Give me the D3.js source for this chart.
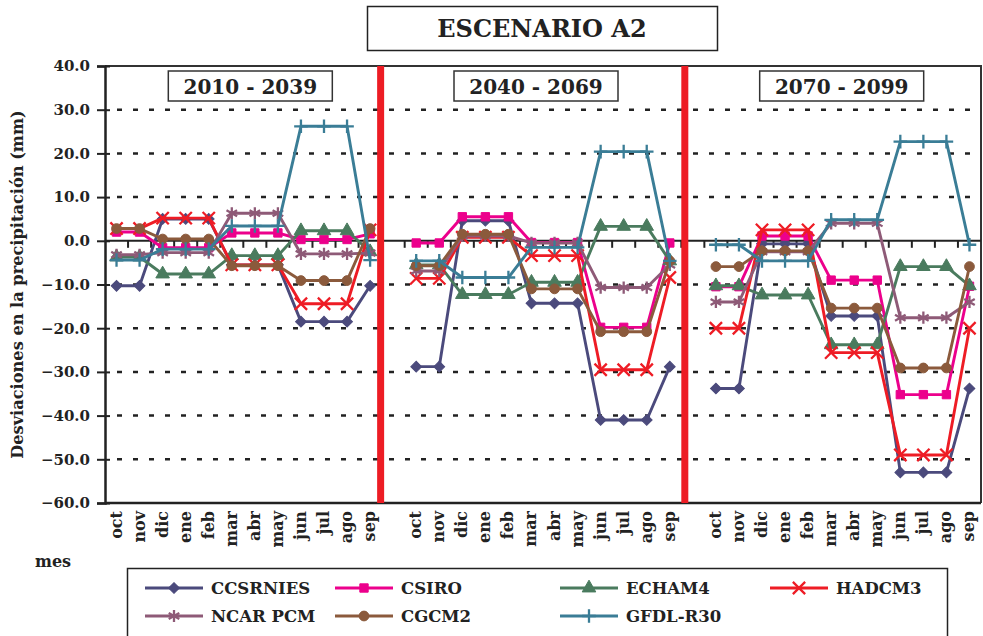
<!DOCTYPE html>
<html>
<head>
<meta charset="utf-8">
<script src="https://cdn.jsdelivr.net/npm/d3@7"></script>
<style>
  body { margin: 0; background: #fff; }
  svg { display: block; font-family: "DejaVu Serif", serif; font-weight: bold; }
</style>
</head>
<body>
<div id="chart"></div>
<script>
// months of the hydrological year, one panel per period
const months = ["oct", "nov", "dic", "ene", "feb", "mar", "abr", "may", "jun", "jul", "ago", "sep"];
const periods = ["2010 - 2039", "2040 - 2069", "2070 - 2099"];
const yTicks = [40, 30, 20, 10, 0, -10, -20, -30, -40, -50, -60];

// deviations (mm), 12 values per period
const ccsrnies = [
  -10.3, -10.3, 5.0, 5.0, 5.0, -5.5, -5.5, -5.5, -18.5, -18.5, -18.5, -10.3,
  -28.8, -28.8, 4.6, 4.6, 4.6, -14.3, -14.3, -14.3, -41.0, -41.0, -41.0, -28.8,
  -33.8, -33.8, -0.7, -0.7, -0.7, -17.2, -17.2, -17.2, -53.0, -53.0, -53.0, -33.8
];
const csiro = [
  2.0, 2.0, -1.6, -1.6, -1.6, 1.8, 1.8, 1.8, 0.3, 0.3, 0.3, 1.6,
  -0.5, -0.5, 5.5, 5.5, 5.5, -0.4, -0.4, -0.4, -19.8, -19.8, -19.8, -0.5,
  -10.5, -10.5, 1.1, 1.1, 1.1, -9.0, -9.0, -9.0, -35.2, -35.2, -35.2, -10.4
];
const echam4 = [
  -3.7, -3.7, -7.6, -7.6, -7.6, -3.4, -3.4, -3.4, 2.3, 2.3, 2.3, -2.5,
  -5.5, -5.5, -12.3, -12.3, -12.3, -9.5, -9.5, -9.5, 3.3, 3.3, 3.3, -4.6,
  -10.3, -10.3, -12.4, -12.4, -12.4, -23.8, -23.8, -23.8, -5.9, -5.9, -5.9, -10.3
];
const hadcm3 = [
  2.8, 2.8, 5.2, 5.2, 5.2, -5.5, -5.5, -5.5, -14.4, -14.4, -14.4, 2.5,
  -8.6, -8.6, 0.8, 0.8, 0.8, -3.4, -3.4, -3.4, -29.5, -29.5, -29.5, -8.4,
  -20.0, -20.0, 2.5, 2.5, 2.5, -25.6, -25.6, -25.6, -49.0, -49.0, -49.0, -20.0
];
const ncarPcm = [
  -3.2, -3.2, -2.7, -2.7, -2.7, 6.3, 6.3, 6.3, -3.0, -3.0, -3.0, -2.8,
  -6.9, -6.9, 1.1, 1.1, 1.1, -0.5, -0.5, -0.5, -10.7, -10.7, -10.7, -5.5,
  -14.0, -14.0, -2.5, -2.5, -2.5, 4.0, 4.0, 4.0, -17.6, -17.6, -17.6, -14.0
];
const cgcm2 = [
  2.8, 2.8, 0.4, 0.4, 0.4, -5.7, -5.7, -5.7, -9.1, -9.1, -9.1, 2.8,
  -5.7, -5.7, 1.5, 1.5, 1.5, -11.0, -11.0, -11.0, -20.8, -20.8, -20.8, -4.6,
  -5.9, -5.9, -2.3, -2.3, -2.3, -15.4, -15.4, -15.4, -29.1, -29.1, -29.1, -5.9
];
const gfdlR30 = [
  -4.4, -4.4, -1.9, -1.9, -1.9, 3.4, 3.4, 3.4, 26.2, 26.2, 26.2, -4.4,
  -4.6, -4.6, -8.4, -8.4, -8.4, -1.5, -1.5, -1.5, 20.4, 20.4, 20.4, -4.6,
  -0.9, -0.9, -4.6, -4.6, -4.6, 4.8, 4.8, 4.8, 22.7, 22.7, 22.7, -0.9
];

const series = [
  { name: "CCSRNIES", values: ccsrnies, color: "#4b4a7c", symbol: "diamond" },
  { name: "CSIRO", values: csiro, color: "#ec008c", symbol: "square" },
  { name: "ECHAM4", values: echam4, color: "#4a7b5e", symbol: "triangle" },
  { name: "HADCM3", values: hadcm3, color: "#ee1c25", symbol: "times" },
  { name: "NCAR PCM", values: ncarPcm, color: "#8e5a77", symbol: "asterisk" },
  { name: "CGCM2", values: cgcm2, color: "#8b5a3c", symbol: "circle" },
  { name: "GFDL-R30", values: gfdlR30, color: "#3a7d96", symbol: "plus" }
];

const width = 983;
const height = 636;
const plot = { left: 105, right: 981, top: 66, bottom: 503 };

// 12 months per panel with one empty slot between panels
const keys = [];
periods.forEach((p, pi) => {
  months.forEach(m => keys.push(pi + "-" + m));
  if (pi < periods.length - 1) keys.push("gap" + pi);
});

const x = d3.scaleBand().domain(keys).range([plot.left, plot.right]).padding(0);
const cx = k => x(k) + x.bandwidth() / 2;
const y = d3.scaleLinear().domain([-60, 40]).range([plot.bottom, plot.top]);

const svg = d3.select("#chart").append("svg")
  .attr("width", width)
  .attr("height", height);

// main title
svg.append("rect")
  .attr("x", 367.5).attr("y", 6.5).attr("width", 350).attr("height", 44)
  .attr("fill", "#fff").attr("stroke", "#222").attr("stroke-width", 1.5);
svg.append("text")
  .attr("x", 542).attr("y", 37)
  .attr("text-anchor", "middle")
  .attr("font-size", 24)
  .attr("fill", "#222")
  .text("ESCENARIO A2");

// dashed grid
svg.append("g")
  .selectAll("line")
  .data(yTicks.filter(v => v !== 0 && v !== 40 && v !== -60))
  .join("line")
  .attr("x1", plot.left + 12).attr("x2", plot.right)
  .attr("y1", d => y(d)).attr("y2", d => y(d))
  .attr("stroke", "#222").attr("stroke-width", 2.5)
  .attr("stroke-dasharray", "5,11");

// plot frame
svg.append("path")
  .attr("d", `M${plot.left},${plot.top}H${plot.right}V${plot.bottom}`)
  .attr("fill", "none").attr("stroke", "#333").attr("stroke-width", 2);

// y axis
const yAxis = svg.append("g")
  .attr("transform", `translate(${plot.left},0)`)
  .call(d3.axisLeft(y).tickValues(yTicks).tickFormat(d3.format(".1f")).tickSize(8).tickPadding(7));
yAxis.select(".domain").attr("stroke", "#222").attr("stroke-width", 2.5);
yAxis.selectAll(".tick line").attr("stroke", "#222").attr("stroke-width", 2).attr("x2", -8).attr("x1", 5);
yAxis.selectAll(".tick text")
  .attr("font-family", "DejaVu Serif").attr("font-weight", "bold")
  .attr("font-size", 15).attr("fill", "#222");

// bottom line
svg.append("line")
  .attr("x1", plot.left).attr("x2", plot.right)
  .attr("y1", plot.bottom).attr("y2", plot.bottom)
  .attr("stroke", "#222").attr("stroke-width", 2.5);

// zero line with category ticks
svg.append("line")
  .attr("x1", plot.left).attr("x2", plot.right)
  .attr("y1", y(0)).attr("y2", y(0))
  .attr("stroke", "#222").attr("stroke-width", 2);
svg.append("g")
  .selectAll("line")
  .data(keys.slice(1))
  .join("line")
  .attr("x1", d => x(d)).attr("x2", d => x(d))
  .attr("y1", y(0)).attr("y2", y(0) + 7)
  .attr("stroke", "#222").attr("stroke-width", 2);

// red separators between periods
const gapOffsets = [-1, 3.5];
svg.append("g")
  .selectAll("line")
  .data(keys.filter(k => k.startsWith("gap")))
  .join("line")
  .attr("x1", (d, i) => x(d) + gapOffsets[i]).attr("x2", (d, i) => x(d) + gapOffsets[i])
  .attr("y1", plot.top).attr("y2", plot.bottom)
  .attr("stroke", "#ed1c24").attr("stroke-width", 7);

// period labels
const boxShift = [7, -7, -1];
const periodBox = svg.append("g").selectAll("g")
  .data(periods)
  .join("g")
  .attr("transform", (d, i) => {
    const mid = (cx(i + "-oct") + cx(i + "-sep")) / 2 + boxShift[i];
    return `translate(${mid},86)`;
  });
periodBox.append("rect")
  .attr("x", -82).attr("y", -15).attr("width", 164).attr("height", 30)
  .attr("fill", "#fff").attr("stroke", "#333").attr("stroke-width", 1.5);
periodBox.append("text")
  .attr("text-anchor", "middle").attr("y", 7.5)
  .attr("font-size", 20).attr("fill", "#222")
  .text(d => d);

// markers
const symbolTypes = {
  diamond: d3.symbolSquare,
  square: d3.symbolSquare,
  triangle: d3.symbolTriangle,
  times: d3.symbolTimes,
  asterisk: d3.symbolAsterisk,
  circle: d3.symbolCircle,
  plus: d3.symbolPlus
};
const symbolSizes = { diamond: 58, square: 70, triangle: 80, times: 100, asterisk: 105, circle: 75, plus: 62 };
const strokeSymbols = ["times", "asterisk", "plus"];

function drawMarker(sel, s) {
  sel.append("path")
    .attr("d", d3.symbol(symbolTypes[s.symbol], symbolSizes[s.symbol])())
    .attr("transform", s.symbol === "diamond" ? "rotate(45)" : null)
    .attr("fill", strokeSymbols.includes(s.symbol) ? "none" : s.color)
    .attr("stroke", s.color)
    .attr("stroke-width", strokeSymbols.includes(s.symbol) ? 2.3 : 1);
}

const line = d3.line().x(d => cx(d.key)).y(d => y(d.v));

series.forEach(s => {
  const g = svg.append("g");
  periods.forEach((p, pi) => {
    const pts = months.map((m, mi) => ({ key: pi + "-" + m, v: s.values[pi * 12 + mi] }));
    g.append("path")
      .attr("d", line(pts))
      .attr("fill", "none")
      .attr("stroke", s.color)
      .attr("stroke-width", 2.9)
      .attr("stroke-linejoin", "round");
    pts.forEach(pt => {
      const mk = g.append("g").attr("transform", `translate(${cx(pt.key)},${y(pt.v)})`);
      drawMarker(mk, s);
    });
  });
});

// month labels
svg.append("g")
  .selectAll("text")
  .data(keys.filter(k => !k.startsWith("gap")))
  .join("text")
  .attr("transform", d => `translate(${cx(d) + 5},511) rotate(-90)`)
  .attr("text-anchor", "end")
  .attr("font-size", 16)
  .attr("fill", "#222")
  .text(d => d.split("-")[1]);

// axis titles
svg.append("text")
  .attr("transform", `translate(23,${(plot.top + plot.bottom) / 2}) rotate(-90)`)
  .attr("text-anchor", "middle")
  .attr("font-size", 16.2)
  .attr("fill", "#222")
  .text("Desviaciones en la precipitación (mm)");
svg.append("text")
  .attr("x", 35).attr("y", 567)
  .attr("font-size", 16)
  .attr("fill", "#222")
  .text("mes");

// legend
svg.append("rect")
  .attr("x", 127.5).attr("y", 568.5).attr("width", 820).attr("height", 70)
  .attr("fill", "#fff").attr("stroke", "#222").attr("stroke-width", 1.5);
const legendCols = [145, 335, 560, 770];
const legendItem = svg.append("g").selectAll("g")
  .data(series)
  .join("g")
  .attr("transform", (d, i) => `translate(${legendCols[i % 4]},${i < 4 ? 588 : 616})`);
legendItem.append("line")
  .attr("x1", 0).attr("x2", 58)
  .attr("stroke", d => d.color).attr("stroke-width", 2.9);
legendItem.each(function (d) {
  const mk = d3.select(this).append("g").attr("transform", "translate(29,0)");
  drawMarker(mk, d);
});
legendItem.append("text")
  .attr("x", 66).attr("y", 6)
  .attr("font-size", 16.5)
  .attr("fill", "#222")
  .text(d => d.name);
</script>
</body>
</html>
